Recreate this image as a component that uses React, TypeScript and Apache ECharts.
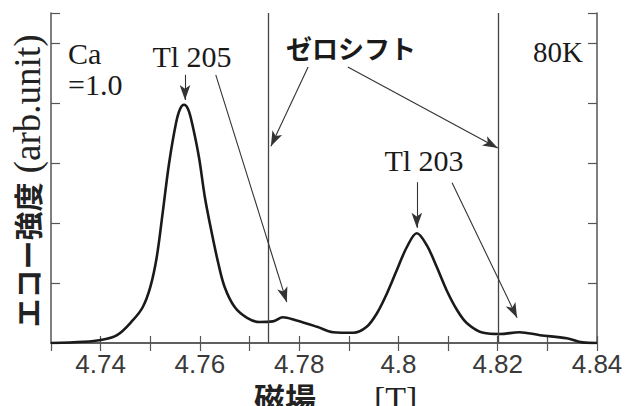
import React, { useEffect, useRef } from "react";
import * as echarts from "echarts";

// Field (T) and echo intensity (arb. unit)
const fieldT = [
  4.73, 4.7366, 4.74, 4.7433, 4.7465, 4.7485, 4.75, 4.7513, 4.7525, 4.7538,
  4.7552, 4.756, 4.7568, 4.7576, 4.7584, 4.7598, 4.761, 4.7624, 4.7637, 4.765,
  4.767, 4.7695, 4.772, 4.7747, 4.7767, 4.7793, 4.7836, 4.7868, 4.7909, 4.7936,
  4.7957, 4.7977, 4.7997, 4.8017, 4.8037, 4.8057, 4.8077, 4.8097, 4.8118, 4.8138,
  4.8171, 4.8204, 4.8244, 4.8285, 4.8339, 4.8371, 4.84,
];
const echo = [
  0.0, 0.02, 0.05, 0.13, 0.38, 0.6, 0.93, 1.43, 2.17, 3.0,
  3.67, 3.9, 3.97, 3.9, 3.67, 3.1, 2.43, 1.83, 1.33, 0.93,
  0.6, 0.42, 0.35, 0.36, 0.43, 0.38, 0.27, 0.18, 0.17, 0.27,
  0.5, 0.83, 1.22, 1.6, 1.83, 1.63, 1.27, 0.88, 0.55, 0.33,
  0.17, 0.15, 0.18, 0.13, 0.08, 0.01, 0.0,
];
// zero-shift reference lines (T)
const zeroShift = [4.7737, 4.8202];
// arrows: [x0, y0, x1, y1] in data units
const arrows = [
  [4.757, 4.47, 4.757, 4.05],
  [4.7632, 4.47, 4.7775, 0.68],
  [4.7818, 4.6, 4.7743, 3.28],
  [4.7898, 4.6, 4.82, 3.25],
  [4.8037, 2.68, 4.8037, 1.92],
  [4.8108, 2.67, 4.8239, 0.42],
];
const xTickLabels = ["4.74", "4.76", "4.78", "4.8", "4.82", "4.84"];

export default function App() {
  const ref = useRef<HTMLDivElement>(null);
  useEffect(() => {
    if (!ref.current) return;
    const chart = echarts.init(ref.current, undefined, { renderer: "svg" });
    const frame = "#555";
    const serif = "Liberation Serif";
    const cjk = "Noto Sans CJK JP";
    const ink = "#1a1a1a";
    const axisCommon = {
      axisLine: { show: true, lineStyle: { color: frame, width: 1.5 } },
      splitLine: { show: false },
    };
    const fmt = (v: number) => {
      const s = String(Math.round(v * 100) / 100);
      return xTickLabels.includes(s) ? s : "";
    };
    chart.setOption({
      animation: false,
      backgroundColor: "#fff",
      grid: { left: 51, right: 29, top: 13, bottom: 63 },
      xAxis: [
        {
          type: "value", min: 4.73, max: 4.84, interval: 0.01, position: "bottom",
          ...axisCommon,
          axisTick: { show: true, inside: true, length: 7, lineStyle: { color: frame, width: 1.2 } },
          axisLabel: {
            show: true, formatter: fmt, margin: 11, fontSize: 26, lineHeight: 20,
            fontFamily: "Liberation Sans", color: "#3a3a3a", showMinLabel: false,
          },
        },
        {
          type: "value", min: 4.73, max: 4.84, interval: 0.01, position: "top",
          ...axisCommon,
          axisTick: { show: true, inside: true, length: 8, lineStyle: { color: frame, width: 1.2 } },
          axisLabel: { show: false },
        },
      ],
      yAxis: [
        {
          type: "value", min: 0, max: 5.5, interval: 1, position: "left",
          ...axisCommon,
          axisTick: { show: true, inside: true, length: 9, lineStyle: { color: frame, width: 1.2 } },
          axisLabel: { show: false },
        },
        {
          type: "value", min: 0, max: 5.5, interval: 1, position: "right",
          ...axisCommon,
          axisTick: { show: true, inside: true, length: 9, lineStyle: { color: frame, width: 1.2 } },
          axisLabel: { show: false },
        },
      ],
      series: [
        {
          type: "line",
          xAxisIndex: 0,
          yAxisIndex: 0,
          data: fieldT.map((x, i) => [x, echo[i]]),
          smooth: 0.35,
          showSymbol: false,
          lineStyle: { color: ink, width: 2.6 },
          markLine: {
            silent: true,
            symbol: "none",
            precision: 4,
            animation: false,
            label: { show: false },
            data: [
              ...zeroShift.map((v) => ({
                xAxis: v,
                lineStyle: { color: "#444", width: 1.3, type: "solid" },
              })),
              ...arrows.map((a) => [
                { coord: [a[0], a[1]], symbol: "none", lineStyle: { color: "#333", width: 1.1, type: "solid" } },
                { coord: [a[2], a[3]], symbol: "arrow", symbolSize: [8, 15] },
              ]),
            ],
          },
        },
      ],
      graphic: [
        { type: "text", left: 68, top: 38, style: { text: "Ca", font: `30px "${serif}"`, fill: ink } },
        { type: "text", left: 68, top: 69, style: { text: "=1.0", font: `30px "${serif}"`, fill: ink } },
        { type: "text", x: 192, y: 56, style: { text: "Tl 205", font: `30px "${serif}"`, fill: ink, align: "center", verticalAlign: "middle" } },
        { type: "text", x: 583, y: 52, style: { text: "80K", font: `29px "${serif}"`, fill: ink, align: "right", verticalAlign: "middle" } },
        { type: "text", x: 424, y: 160, style: { text: "Tl 203", font: `30px "${serif}"`, fill: ink, align: "center", verticalAlign: "middle" } },
        { type: "text", x: 286, y: 47, style: { text: "ゼロシフト", font: `bold 26px "${cjk}"`, fill: ink, align: "left", verticalAlign: "middle" } },
        {
          type: "text", x: 27, y: 181, rotation: Math.PI / 2,
          style: {
            text: "{a|エコー強度}{b| (arb.unit)}",
            align: "center", verticalAlign: "middle",
            rich: {
              a: { fontFamily: cjk, fontWeight: "bold", fontSize: 29, fill: "#222" },
              b: { fontFamily: serif, fontSize: 37, fill: "#222" },
            },
          },
        },
        { type: "text", x: 254, y: 381, style: { text: "磁場", font: `bold 31px "${cjk}"`, lineHeight: 31, fill: "#222", verticalAlign: "top" } },
        { type: "text", x: 374, y: 381, style: { text: "[T]", font: `34px "${serif}"`, lineHeight: 34, fill: "#222", verticalAlign: "top" } },
      ],
    });
    return () => chart.dispose();
  }, []);
  return <div ref={ref} style={{ width: 626, height: 406, position: "fixed", left: 0, top: 0 }} />;
}
